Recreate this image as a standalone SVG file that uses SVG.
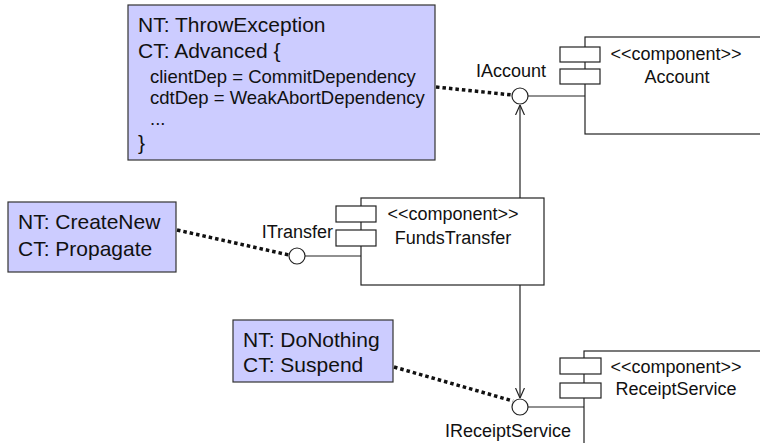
<svg xmlns="http://www.w3.org/2000/svg" width="760" height="443" viewBox="0 0 760 443">
<defs>
<style>
text{font-family:"Liberation Sans",Arial,sans-serif;fill:#111}
.note{fill:#ccccff;stroke:#333;stroke-width:1.2}
.main{font-size:21px}
.sub{font-size:18.5px}
.lbl{font-size:18px}
.comp{fill:#fff;stroke:#222;stroke-width:1.2}
.port{fill:#fff;stroke:#222;stroke-width:1.2}
.iface{fill:#fff;stroke:#222;stroke-width:1.2}
.line{fill:none;stroke:#222;stroke-width:1.2}
.dot{fill:none;stroke:#111;stroke-width:3.5;stroke-dasharray:3.5 3}
</style>
<marker id="open" viewBox="0 0 10 10" refX="10" refY="5" markerWidth="10" markerHeight="10" markerUnits="userSpaceOnUse" orient="auto">
<path d="M0,0.5 L10,5 L0,9.5" fill="none" stroke="#222" stroke-width="1.2"/>
</marker>
</defs>
<rect width="760" height="443" fill="#fff"/>

<g id="connectors">
<line class="dot" x1="436" y1="87" x2="512" y2="95"/>
<line class="dot" x1="177" y1="230" x2="289" y2="255"/>
<line class="dot" x1="394" y1="367" x2="513" y2="401"/>
<line class="line" x1="520" y1="198" x2="520" y2="105" marker-end="url(#open)"/>
<line class="line" x1="520" y1="285" x2="520" y2="398" marker-end="url(#open)"/>
<line class="line" x1="528" y1="96" x2="585" y2="96"/>
<line class="line" x1="305" y1="256" x2="361" y2="256"/>
<line class="line" x1="528" y1="407" x2="584" y2="407"/>
</g>

<g id="note-throw">
<rect class="note" x="128" y="5" width="307" height="155"/>
<text class="main" x="138" y="32">NT: ThrowException</text>
<text class="main" x="138" y="58">CT: Advanced {</text>
<text class="sub" x="150" y="83">clientDep = CommitDependency</text>
<text class="sub" x="150" y="104">cdtDep = WeakAbortDependency</text>
<text class="sub" x="150" y="125">...</text>
<text class="main" x="138" y="150">}</text>
</g>

<g id="note-create">
<rect class="note" x="8" y="202" width="168" height="70"/>
<text class="main" x="18" y="229">NT: CreateNew</text>
<text class="main" x="18" y="256">CT: Propagate</text>
</g>

<g id="note-nothing">
<rect class="note" x="233" y="320" width="160" height="62"/>
<text class="main" x="243" y="347">NT: DoNothing</text>
<text class="main" x="243" y="372">CT: Suspend</text>
</g>

<g id="account">
<rect class="comp" x="585" y="37" width="190" height="97"/>
<rect class="port" x="560" y="47" width="40" height="15"/>
<rect class="port" x="560" y="69" width="40" height="15"/>
<text class="lbl" x="676" y="60" text-anchor="middle">&lt;&lt;component&gt;&gt;</text>
<text class="lbl" x="677" y="83" text-anchor="middle">Account</text>
</g>

<g id="iaccount">
<circle class="iface" cx="520" cy="96" r="8"/>
<text class="lbl" x="511" y="77" text-anchor="middle">IAccount</text>
</g>

<g id="fundstransfer">
<rect class="comp" x="361" y="198" width="183" height="87"/>
<rect class="port" x="336" y="206" width="40" height="16"/>
<rect class="port" x="336" y="230" width="40" height="16"/>
<text class="lbl" x="453" y="220" text-anchor="middle">&lt;&lt;component&gt;&gt;</text>
<text class="lbl" x="453" y="244" text-anchor="middle">FundsTransfer</text>
</g>

<g id="itransfer">
<circle class="iface" cx="297" cy="256" r="8"/>
<text class="lbl" x="333" y="238" text-anchor="end">ITransfer</text>
</g>

<g id="receiptservice">
<rect class="comp" x="584" y="351" width="190" height="110"/>
<rect class="port" x="560" y="358" width="41" height="16"/>
<rect class="port" x="560" y="383" width="41" height="15"/>
<text class="lbl" x="676" y="373" text-anchor="middle">&lt;&lt;component&gt;&gt;</text>
<text class="lbl" x="676" y="395" text-anchor="middle">ReceiptService</text>
</g>

<g id="ireceiptservice">
<circle class="iface" cx="520" cy="407" r="8"/>
<text class="lbl" x="508" y="437" text-anchor="middle">IReceiptService</text>
</g>
</svg>
